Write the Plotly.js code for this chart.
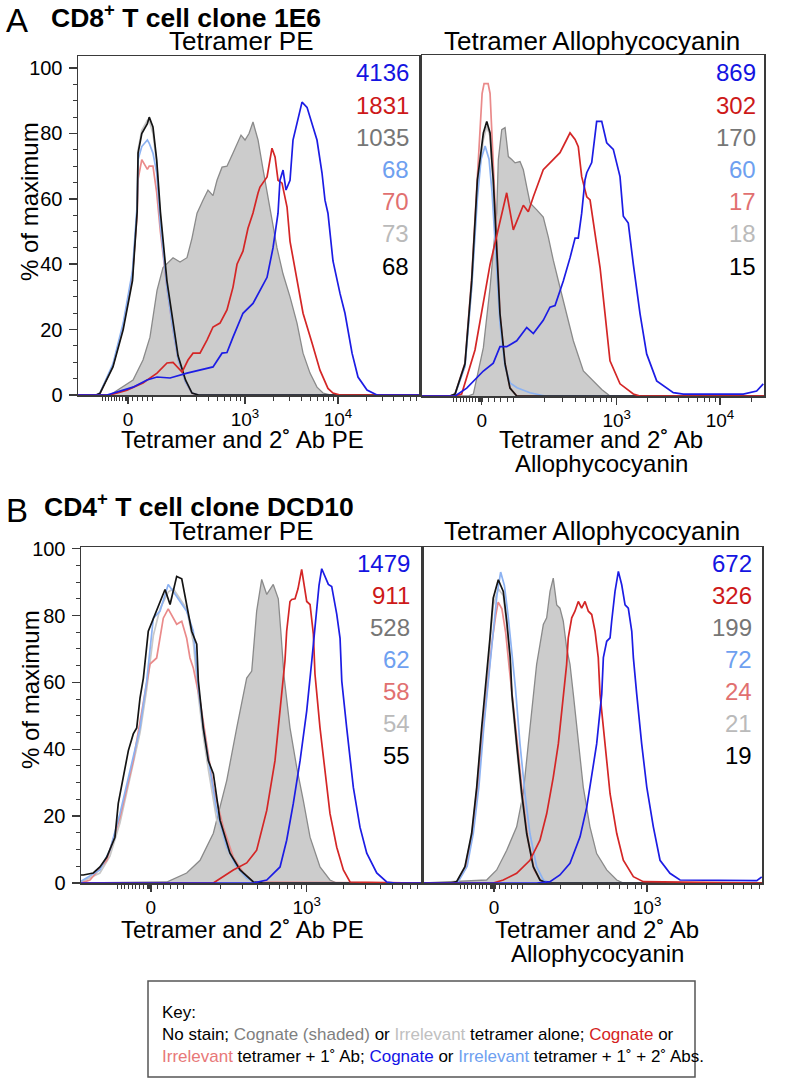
<!DOCTYPE html>
<html>
<head>
<meta charset="utf-8">
<script src="https://cdn.plot.ly/plotly-3.0.1.min.js"></script>
<style>
  body { margin: 0; background: #fff; }
  #chart { width: 793px; height: 1081px; }
</style>
</head>
<body>
<div id="chart"></div>
<script>
// x values are positions on the biexponential display scale (3 = 10^3, 4 = 10^4), y = % of maximum

// A, CD8+ clone 1E6, tetramer PE
var aPeGreyX = [1.548,1.796,1.903,1.978,2.054,2.118,2.226,2.301,2.376,2.430,2.484,2.548,2.602,2.656,2.699,2.753,2.806,2.871,2.914,2.957,3.000,3.043,3.086,3.140,3.194,3.237,3.269,3.344,3.409,3.484,3.559,3.624,3.699,3.774,3.839,3.914];
var aPeGreyY = [0,4.6,10.7,17.7,32,39,42,40.7,42,48,55.6,59.6,62.7,61,65.7,69.7,70,74,77,79.5,78,80,83.5,78,69,62,57.5,45,37,30,22,12.8,6.7,2.4,0.6,0];
var aPeRedX = [1.548,1.731,1.903,2.054,2.161,2.226,2.323,2.387,2.441,2.516,2.591,2.656,2.731,2.806,2.871,2.914,2.978,3.032,3.086,3.140,3.161,3.237,3.290,3.323,3.355,3.398,3.430,3.452,3.484,3.559,3.624,3.720,3.806,3.892,3.946,4.022];
var aPeRedY = [0,1.5,3.7,6.7,9.8,10,7,10.7,12.8,12.8,16.8,20.8,22,26,33,40,44,51,55.7,61.8,63.6,66.7,75.5,72.8,65.7,64.8,60.6,57.5,47,35,25,16,7.6,2,0.6,0];
var aPeBlueX = [1.516,1.796,1.946,2.054,2.194,2.376,2.516,2.656,2.753,2.806,2.871,2.978,3.086,3.161,3.237,3.301,3.355,3.376,3.409,3.441,3.484,3.516,3.570,3.613,3.667,3.720,3.774,3.828,3.860,3.892,3.946,4.022,4.075,4.151,4.215,4.312,4.419];
var aPeBlueY = [0,2.4,4.6,5.5,5.2,6.7,7.6,8.6,12.8,13,17.7,25,28,32,36,45,55.6,65.7,68.8,62.7,65.7,78,84,89.6,88,83,78,67.9,59.6,55.6,41,31,25,12.8,5.5,1.5,0];
var aPeLowX = [1.40,1.44,1.58,1.69,1.79,1.84,1.85,1.89,1.95,1.97,2.01,2.05,2.09,2.16,2.22,2.28,2.36,2.43,2.50];
var aPeBlackY = [0,0.5,8.6,20,35,56,74,80,83,85,82,72,56,35,23,12,4.6,0.6,0];
var aPeLgreyY = [0,0.5,9,21,36,57,75,81,84,84,80,71,54,34,22,11,4,0.5,0];
var aPeLblueY = [0,0.6,9.5,22,38,58,72,76,78,77,74,68,52,33,21,11,4,0.6,0];
var aPeLredY = [0,0.5,9,21,37,55,66,72,69,70,70,62,50,33,21,11,4,0.5,0];

// A, tetramer allophycocyanin
var aApcGreyX = [1.560,1.612,1.709,1.774,1.838,1.854,1.887,1.919,1.951,1.984,2.016,2.064,2.096,2.129,2.161,2.226,2.289,2.338,2.386,2.451,2.516,2.580,2.677,2.773,2.855,2.935];
var aApcGreyY = [0,0.6,14.7,33,55.6,71.9,81,81.6,72.8,71.9,70.9,71.3,68.8,63.6,58.7,56.6,54.4,48.3,41.3,33,25,16.8,7.6,4.6,2,0];
var aApcRedX = [1.435,1.499,1.628,1.774,1.870,1.935,1.999,2.096,2.144,2.193,2.289,2.386,2.451,2.516,2.548,2.597,2.628,2.661,2.710,2.742,2.806,2.839,2.887,2.935,3.032,3.161,3.226];
var aApcRedY = [0,0.6,14,40,52.6,61.8,50.5,58,56,60.6,68.8,71.9,74,78,80,78,75.8,66.7,60.6,59.6,45,39,25,10.7,3.7,0.6,0];
var aApcBlueX = [1.435,1.548,1.709,1.805,1.870,1.935,2.032,2.129,2.193,2.289,2.354,2.403,2.483,2.548,2.597,2.628,2.661,2.693,2.710,2.758,2.806,2.855,2.903,2.967,3.032,3.064,3.112,3.161,3.226,3.290,3.387,3.548,3.645,3.871,4.032,4.226,4.355,4.419];
var aApcBlueY = [0,2.4,7.6,10,15,15,16.8,20.8,19,23,27,27.5,35,42,48,48,55.6,65.7,67.9,71,83.5,83.5,77,75,66.7,54.7,52.6,40,25,12.8,4.6,1,0.6,0.6,0.6,0.6,1.5,3.7];
var aApcLowX = [1.386,1.435,1.531,1.596,1.651,1.677,1.709,1.742,1.774,1.790,1.805,1.838,1.870,1.919,1.967,2.032];
var aApcBlackY = [0,0.6,9.8,35,65.7,72,80,83.5,80,72,65.7,45,25,9.8,2.4,0];
var aApcLgreyY = [0,0.5,9,33,63,70,78,82,79,71,64,44,24,9,2,0];
var aApcLredX = [1.386,1.435,1.531,1.596,1.651,1.677,1.697,1.716,1.755,1.774,1.793,1.813,1.842,1.870,1.919,1.967,2.035];
var aApcLredY = [0,0.6,10,36,67,80,92,95,95,92,80,66,45,25,10,2.4,0];
var aApcLblueX = [1.386,1.435,1.531,1.596,1.651,1.687,1.726,1.764,1.793,1.832,1.870,1.919,1.967,2.035,2.161,2.306];
var aApcLblueY = [0,0.6,9,33,60,72,76,72,62,42,22,9,4,2.5,1,0];

// B, CD4+ clone DCD10, tetramer PE
var bPeGreyX = [1.862,2.024,2.133,2.241,2.350,2.431,2.512,2.553,2.593,2.634,2.675,2.728,2.769,2.790,2.815,2.864,2.919,2.972,3.027,3.108,3.189,3.244];
var bPeGreyY = [0.3,3,6.8,14.9,30.7,46.4,61.3,63.4,81.3,90.8,86.3,89.3,85,75,62,46.4,34.5,24.7,13.7,4.8,0.9,0];
var bPeRedX = [2.241,2.403,2.512,2.593,2.675,2.742,2.783,2.823,2.837,2.864,2.878,2.905,2.929,2.959,3.000,3.027,3.054,3.067,3.108,3.149,3.189,3.244,3.298,3.352];
var bPeRedY = [0,3.9,6,9.8,21.7,36.6,51.5,66.4,75.3,84.2,84.8,85,88,93.8,84.2,83.3,74.4,62.5,46.4,32.7,20.8,10.7,3.9,0.3];
var bPeBlueX = [2.566,2.675,2.783,2.837,2.891,2.946,3.000,3.041,3.081,3.100,3.122,3.176,3.203,3.244,3.271,3.285,3.325,3.379,3.433,3.488,3.569,3.650,3.718];
var bPeBlueY = [0,0.9,4.8,12.8,23.8,36.6,51.5,66.4,81.3,89,94,89.3,88.7,80.4,73.2,60.4,46.4,28.6,16.7,8.9,3,0.3,0];
var bPeBlackX = [1.165,1.184,1.265,1.319,1.374,1.441,1.468,1.523,1.550,1.590,1.618,1.645,1.672,1.712,1.767,1.807,1.848,1.889,1.943,1.984,2.024,2.065,2.106,2.119,2.159,2.200,2.241,2.295,2.376,2.458,2.566,2.645];
var bPeBlackY = [2.4,2.4,3,4.8,7.7,13.7,23.8,34.5,39.6,44.6,46.4,55.4,61.3,75.3,80.4,83.6,87.8,83.3,91.7,91,83.3,75.3,71.4,60.4,46.4,36.6,32.7,18.8,8.9,3.9,0.3,0];
var bPeLowX = [1.165,1.319,1.400,1.482,1.563,1.645,1.699,1.753,1.807,1.874,1.915,1.970,2.024,2.078,2.119,2.159,2.200,2.268,2.350,2.431,2.512,2.593];
var bPeLblueY = [0.5,3.9,9.8,20.8,33.6,46.4,60.4,79.2,81.3,89.3,87.2,84.2,81.3,75.3,58.3,46.4,36.6,21.7,10.7,4.8,1.5,0];
var bPeLgreyY = [0.3,3,8,18,31,45,58,74,82,87,88,85,82,72,56,44,34,19,9,3.5,1,0];
var bPeLredX = [1.238,1.374,1.482,1.590,1.672,1.712,1.726,1.780,1.834,1.874,1.915,1.943,1.984,2.024,2.051,2.078,2.133,2.187,2.241,2.322,2.403,2.485,2.566];
var bPeLredY = [0.9,6.8,19.6,36.6,54.5,62.5,65.5,67.3,79.2,82,79,77.4,78.3,73.2,67.3,64.3,54.5,41.7,28.6,16.7,7.7,3,0.3];

// B, tetramer allophycocyanin
var bApcGreyX = [1.707,1.788,1.869,1.949,2.002,2.043,2.083,2.110,2.137,2.164,2.191,2.218,2.244,2.272,2.298,2.325,2.352,2.379,2.406,2.446,2.486,2.540,2.594,2.675,2.756,2.809];
var bApcGreyY = [0.9,3.9,9.8,16.8,26.7,41.6,56.5,65.4,71.3,77.3,79.3,87.2,91.2,83.2,82.2,78.3,70.3,65.4,56.4,41.6,28.7,16.8,8.8,3.9,0.9,0];
var bApcRedX = [1.760,1.841,1.949,2.056,2.137,2.191,2.244,2.285,2.325,2.352,2.365,2.393,2.419,2.446,2.473,2.500,2.527,2.554,2.581,2.607,2.621,2.661,2.702,2.756,2.809,2.890,2.970];
var bApcRedY = [0,0.9,2.9,6.8,12.8,20.7,31.6,41.6,56.5,65.4,73.3,79.3,81.3,84.2,82.2,84.2,81.3,80.3,75.3,67.4,56.5,41.6,26.7,14.8,6.8,1.9,0.4];
var bApcBlueX = [2.110,2.218,2.298,2.379,2.460,2.514,2.554,2.594,2.635,2.648,2.675,2.702,2.715,2.742,2.769,2.796,2.823,2.849,2.877,2.890,2.917,2.957,2.998,3.051,3.105,3.185,3.266,3.589,3.885,3.925];
var bApcBlueY = [0,0.4,2.4,5.9,13.8,22.7,31.6,41.6,56.5,67.4,72.3,73.3,78.3,87.2,93.2,89.2,83.2,82.2,75.3,67.4,56.5,41.6,28.7,16.8,6.8,2.9,0.9,0.7,0.7,1.8];
var bApcLowX = [1.411,1.465,1.532,1.586,1.627,1.667,1.720,1.734,1.760,1.801,1.841,1.869,1.897,1.911,1.949,1.990,2.030,2.083,2.137,2.191];
var bApcBlackY = [0,0.4,4.9,14.8,28.7,46.5,66.4,73.3,85.2,90.7,87.2,78.3,67.4,56.5,41.6,26.7,14.8,4.9,0.9,0];
var bApcLgreyY = [0,0.4,4.5,14,28,45,64,72,83,88,86,77,66,55,40,25,13,4,0.8,0];
var bApcLblueX = [1.43,1.48,1.55,1.60,1.645,1.685,1.735,1.76,1.79,1.82,1.85,1.88,1.91,1.94,1.976,2.016,2.056,2.110,2.164,2.22];
var bApcLblueY = [0,0.5,5,15,29,47,67,75,86,93,89,80,69,58,41.6,26.7,14.8,4.9,0.9,0];
var bApcLredX = [1.42,1.47,1.54,1.59,1.635,1.675,1.725,1.75,1.78,1.80,1.83,1.86,1.89,1.92,1.96,2.00,2.04,2.09,2.14,2.19];
var bApcLredY = [0,0.4,4.5,14,28,45,64,72,80,84,82,75,64,54,40,25,13,4,0.8,0];

// median fluorescence, top to bottom: cognate 1+2 Ab, cognate 1 Ab, cognate alone, irrelevant 1+2, irrelevant 1, irrelevant alone, no stain
var aPeMfi = ['4136','1831','1035','68','70','73','68'];
var aApcMfi = ['869','302','170','60','17','18','15'];
var bPeMfi = ['1479','911','528','62','58','54','55'];
var bApcMfi = ['672','326','199','72','24','21','19'];

var FONT = 'Liberation Sans, Arial, Helvetica, sans-serif';
var W = 793, H = 1081;
function px(x) { return x / W; }
function py(y) { return 1 - y / H; }

var col = {
  blue: 'rgb(28,28,228)', red: 'rgb(212,38,38)', grey: 'rgb(138,138,138)',
  lblue: 'rgb(140,178,242)', lred: 'rgb(234,138,138)', lgrey: 'rgb(200,200,200)', black: 'rgb(20,20,20)'
};
var mfiColors = ['rgb(20,20,225)', 'rgb(205,25,25)', 'rgb(118,118,118)', 'rgb(110,160,240)', 'rgb(225,112,112)', 'rgb(186,186,186)', '#000'];

var panels = [
  { id: '', xd: [78, 419], yd: [56, 395], xr: [1.204, 4.871], yr: [0, 103.7], zero: 1.742, ylab: true,
    mfi: aPeMfi, mfiX: 411, mfiY: 73, mfiStep: 32.2,
    curves: [
      [aPeGreyX, aPeGreyY, 'grey'], [aPeLowX, aPeLgreyY, 'lgrey'], [aPeLowX, aPeLredY, 'lred'],
      [aPeLowX, aPeLblueY, 'lblue'], [aPeLowX, aPeBlackY, 'black'], [aPeRedX, aPeRedY, 'red'], [aPeBlueX, aPeBlueY, 'blue']
    ] },
  { id: '2', xd: [422, 764], yd: [55, 396], xr: [1.115, 4.426], yr: [0, 103.7], zero: 1.693, ylab: false,
    mfi: aApcMfi, mfiX: 758, mfiY: 73, mfiStep: 32.2,
    curves: [
      [aApcGreyX, aApcGreyY, 'grey'], [aApcLowX, aApcLgreyY, 'lgrey'], [aApcLredX, aApcLredY, 'lred'],
      [aApcLblueX, aApcLblueY, 'lblue'], [aApcLowX, aApcBlackY, 'black'], [aApcRedX, aApcRedY, 'red'], [aApcBlueX, aApcBlueY, 'blue']
    ] },
  { id: '3', xd: [81, 421], yd: [547, 883], xr: [1.165, 3.929], yr: [0, 100.5], zero: 1.732, ylab: true,
    mfi: bPeMfi, mfiX: 412, mfiY: 563, mfiStep: 32,
    curves: [
      [bPeGreyX, bPeGreyY, 'grey'], [bPeLowX, bPeLgreyY, 'lgrey'], [bPeLredX, bPeLredY, 'lred'],
      [bPeLowX, bPeLblueY, 'lblue'], [bPeBlackX, bPeBlackY, 'black'], [bPeRedX, bPeRedY, 'red'], [bPeBlueX, bPeBlueY, 'blue']
    ] },
  { id: '4', xd: [424, 762], yd: [547, 883], xr: [1.202, 3.927], yr: [0, 100.5], zero: 1.766, ylab: false,
    mfi: bApcMfi, mfiX: 754, mfiY: 563, mfiStep: 32,
    curves: [
      [bApcGreyX, bApcGreyY, 'grey'], [bApcLowX, bApcLgreyY, 'lgrey'], [bApcLredX, bApcLredY, 'lred'],
      [bApcLblueX, bApcLblueY, 'lblue'], [bApcLowX, bApcBlackY, 'black'], [bApcRedX, bApcRedY, 'red'], [bApcBlueX, bApcBlueY, 'blue']
    ] }
];

// minor ticks: 10^2 and 2..9 x each decade, plus the packed ticks of the linear part round zero
function minorTicks(r, zero) {
  var v = [2];
  for (var d = 2; d <= 4; d++) {
    for (var k = 2; k <= 9; k++) {
      var u = d + Math.log10(k);
      if (u > r[0] && u < r[1]) v.push(u);
    }
  }
  for (var j = 1; j <= 4; j++) v.push(zero + j * (2 - zero) / 5);
  for (var i = 1; i <= 9; i++) v.push(zero - i * 0.03);
  v.push(zero - 0.01, zero + 0.01, zero - 0.02);
  return v;
}

var data = [];
var layout = {
  width: W, height: H, autosize: false,
  margin: { l: 0, r: 0, t: 0, b: 0 },
  paper_bgcolor: '#fff', plot_bgcolor: '#fff',
  showlegend: false,
  font: { family: FONT, color: '#000' },
  annotations: [], shapes: []
};

panels.forEach(function (p) {
  var xa = 'x' + p.id, ya = 'y' + p.id;
  p.curves.forEach(function (c) {
    var xs = c[0].slice(), ys = c[1].slice();
    // histograms sit on the baseline outside their peak
    if (ys[0] < 1.5) { xs.unshift(p.xr[0]); ys.unshift(0); }
    if (ys[ys.length - 1] < 1.5) { xs.push(p.xr[1]); ys.push(0); }
    var t = {
      x: xs, y: ys, xaxis: xa, yaxis: ya, type: 'scatter', mode: 'lines',
      line: { color: col[c[2]], width: 1.7 }, hoverinfo: 'skip'
    };
    if (c[2] === 'grey') {
      t.fill = 'tozeroy';
      t.fillcolor = 'rgb(204,204,204)';
      t.line.width = 1.3;
    }
    data.push(t);
  });

  var tv = [p.zero, 3, 4].filter(function (v) { return v < p.xr[1]; });
  var tt = ['0', '10<sup>3</sup>', '10<sup>4</sup>'].slice(0, tv.length);
  layout['xaxis' + p.id] = {
    domain: [px(p.xd[0]), px(p.xd[1])], range: p.xr, anchor: ya,
    showline: true, mirror: true, linecolor: '#3a3a3a', linewidth: 1.5,
    showgrid: false, zeroline: false,
    tickmode: 'array', tickvals: tv, ticktext: tt,
    ticks: 'outside', ticklen: 7, tickwidth: 1.5, tickcolor: '#3a3a3a',
    ticklabelstandoff: 0,
    tickfont: { family: FONT, size: 19, color: '#000' },
    minor: { tickmode: 'array', tickvals: minorTicks(p.xr, p.zero), ticks: 'outside',
             ticklen: 4, tickwidth: 1, tickcolor: '#3a3a3a', showgrid: false },
    fixedrange: true
  };
  var yax = {
    domain: [py(p.yd[1]), py(p.yd[0])], range: p.yr, anchor: xa,
    showline: true, mirror: true, linecolor: '#3a3a3a', linewidth: 1.5,
    showgrid: false, zeroline: false, fixedrange: true
  };
  if (p.ylab) {
    yax.tickmode = 'array';
    yax.tickvals = [0, 20, 40, 60, 80, 100];
    yax.ticks = 'outside';
    yax.ticklen = 8; yax.tickwidth = 1.5; yax.tickcolor = '#3a3a3a';
    yax.ticklabelstandoff = 2;
    yax.tickfont = { family: FONT, size: 20, color: '#000' };
    yax.minor = { tickmode: 'linear', tick0: 0, dtick: 5, ticks: 'outside', ticklen: 4, tickwidth: 1, tickcolor: '#3a3a3a', showgrid: false };
  } else {
    yax.showticklabels = false;
    yax.ticks = '';
  }
  layout['yaxis' + p.id] = yax;

  p.mfi.forEach(function (m, i) {
    layout.annotations.push({
      text: m, xref: 'paper', yref: 'paper', x: px(p.mfiX), y: py(p.mfiY + i * p.mfiStep),
      xanchor: 'right', yanchor: 'middle', showarrow: false,
      font: { family: FONT, size: 24, color: mfiColors[i] }
    });
  });
});

function label(text, x, y, size, xanchor, extra) {
  var a = {
    text: text, xref: 'paper', yref: 'paper', x: px(x), y: py(y),
    xanchor: xanchor || 'center', yanchor: 'middle', showarrow: false,
    font: { family: FONT, size: size, color: '#000' }
  };
  if (extra) for (var k in extra) a[k] = extra[k];
  layout.annotations.push(a);
}

label('A', 17, 21, 33);
label('<b>CD8<sup>+</sup> T cell clone 1E6</b>', 49, 16, 26.5, 'left');
label('Tetramer PE', 241, 41, 26);
label('Tetramer Allophycocyanin', 592, 41, 26);
label('Tetramer and 2˚ Ab PE', 242, 439, 24);
label('Tetramer and 2˚ Ab', 601, 439, 24);
label('Allophycocyanin', 601, 463, 24);
label('% of maximum', 30, 202, 24, 'center', { textangle: -90 });

label('B', 17, 510, 33);
label('<b>CD4<sup>+</sup> T cell clone DCD10</b>', 42, 505, 26.5, 'left');
label('Tetramer PE', 241, 531, 26);
label('Tetramer Allophycocyanin', 592, 531, 26);
label('Tetramer and 2˚ Ab PE', 242, 929, 24);
label('Tetramer and 2˚ Ab', 597, 929, 24);
label('Allophycocyanin', 597, 953, 24);
label('% of maximum', 30, 690, 24, 'center', { textangle: -90 });

// key
layout.shapes.push({
  type: 'rect', xref: 'paper', yref: 'paper',
  x0: px(148), x1: px(695), y0: py(1077), y1: py(981),
  line: { color: '#555', width: 1.5 }, fillcolor: 'rgba(0,0,0,0)'
});
var keyText = 'Key:<br>No stain; <span style="color:rgb(128,128,128)">Cognate (shaded)</span> or ' +
  '<span style="color:rgb(192,192,192)">Irrelevant</span> tetramer alone; ' +
  '<span style="color:rgb(212,30,30)">Cognate</span> or<br>' +
  '<span style="color:rgb(232,120,120)">Irrelevant</span> tetramer + 1˚ Ab; ' +
  '<span style="color:rgb(20,20,230)">Cognate</span> or ' +
  '<span style="color:rgb(110,160,240)">Irrelevant</span> tetramer + 1˚ + 2˚ Abs.';
label(keyText, 160, 1034, 17, 'left', { align: 'left' });

Plotly.newPlot('chart', data, layout, { displayModeBar: false, staticPlot: true });
</script>
</body>
</html>
